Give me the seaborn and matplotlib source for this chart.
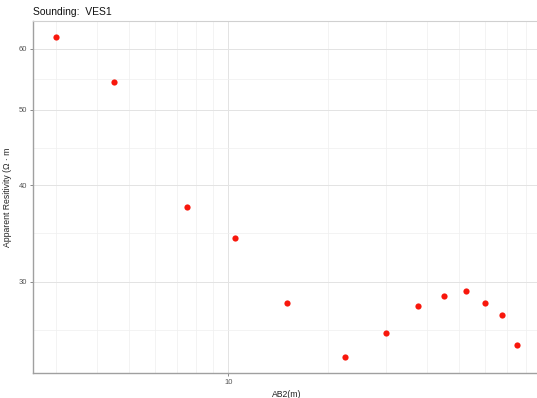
import numpy as np
import pandas as pd
import matplotlib
matplotlib.use("Agg")
import matplotlib.pyplot as plt
import matplotlib.ticker as mticker
import seaborn as sns

# sounding data
ab2 = [3, 4.5, 7.5, 10.5, 15, 22.5, 30, 37.5, 45, 52.5, 60, 67.5, 75]
rho = [62.1, 54.3, 37.5, 34.2, 28.2, 24.0, 25.8, 27.9, 28.8, 29.2, 28.2, 27.2, 24.9]
y_breaks = [30, 40, 50, 60]
x_breaks = [10]
title = "Sounding:  VES1"
x_title = "AB2(m)"
y_title = "Apparent Resitivity (Ω · m"


def log_expand(v, frac=0.05):
    lo, hi = np.log10(min(v)), np.log10(max(v))
    d = (hi - lo) * frac
    return 10 ** (lo - d), 10 ** (hi + d)


if __name__ == '__main__':
    sns.set_theme(style="whitegrid")
    plt.rcParams['font.family'] = ['Liberation Sans', 'DejaVu Sans']

    W, H = 537, 398
    fig = plt.figure(figsize=(W / 100, H / 100), dpi=100)
    ax = fig.add_axes([33 / W, 25 / H, 507 / W, 352 / H])

    df = pd.DataFrame({'AB2': ab2, 'rho': rho})
    sns.scatterplot(data=df, x='AB2', y='rho', ax=ax, color='#F8170C',
                    s=20, linewidth=0, zorder=3)

    ax.set_xscale('log')
    ax.set_yscale('log')
    ax.set_xlim(log_expand(ab2))
    ax.set_ylim(log_expand(rho))

    # x: major at 10, minor at every 1..9 multiple
    ax.xaxis.set_major_locator(mticker.FixedLocator(x_breaks))
    ax.xaxis.set_major_formatter(mticker.FixedFormatter([str(b) for b in x_breaks]))
    ax.xaxis.set_minor_locator(mticker.LogLocator(base=10, subs=np.arange(2, 10)))
    ax.xaxis.set_minor_formatter(mticker.NullFormatter())

    # y: fixed breaks, minor halfway in log space (ggplot style)
    lb = np.log10(y_breaks)
    step = lb[1] - lb[0]
    ext = np.concatenate([[lb[0] - step], lb])
    y_minor = 10 ** ((ext[:-1] + ext[1:]) / 2)
    ax.yaxis.set_major_locator(mticker.FixedLocator(y_breaks))
    ax.yaxis.set_major_formatter(mticker.FixedFormatter([str(b) for b in y_breaks]))
    ax.yaxis.set_minor_locator(mticker.FixedLocator(y_minor))
    ax.yaxis.set_minor_formatter(mticker.NullFormatter())

    ax.grid(which='major', color='#E3E3E3', linewidth=0.7)
    ax.grid(which='minor', color='#EFEFEF', linewidth=0.5)
    ax.set_axisbelow(True)

    ax.tick_params(which='major', bottom=True, left=True, length=2.5, width=0.6,
                   color='#777777', labelsize=5.5, labelcolor='#555555', pad=1.5)
    ax.tick_params(which='minor', length=0)

    for side in ['left', 'bottom']:
        ax.spines[side].set_color('#A0A0A0')
        ax.spines[side].set_linewidth(1.0)
    ax.spines['top'].set_color('#D0D0D0')
    ax.spines['top'].set_linewidth(0.8)
    ax.spines['right'].set_visible(False)

    ax.set_xlabel(x_title, fontsize=6.2, color='#222222', labelpad=3)
    ax.set_ylabel(y_title, fontsize=6.2, color='#222222', labelpad=5)
    ax.set_title(title, loc='left', fontsize=7.5, color='#111111', pad=4)

    fig.savefig('out.png', dpi=100)
